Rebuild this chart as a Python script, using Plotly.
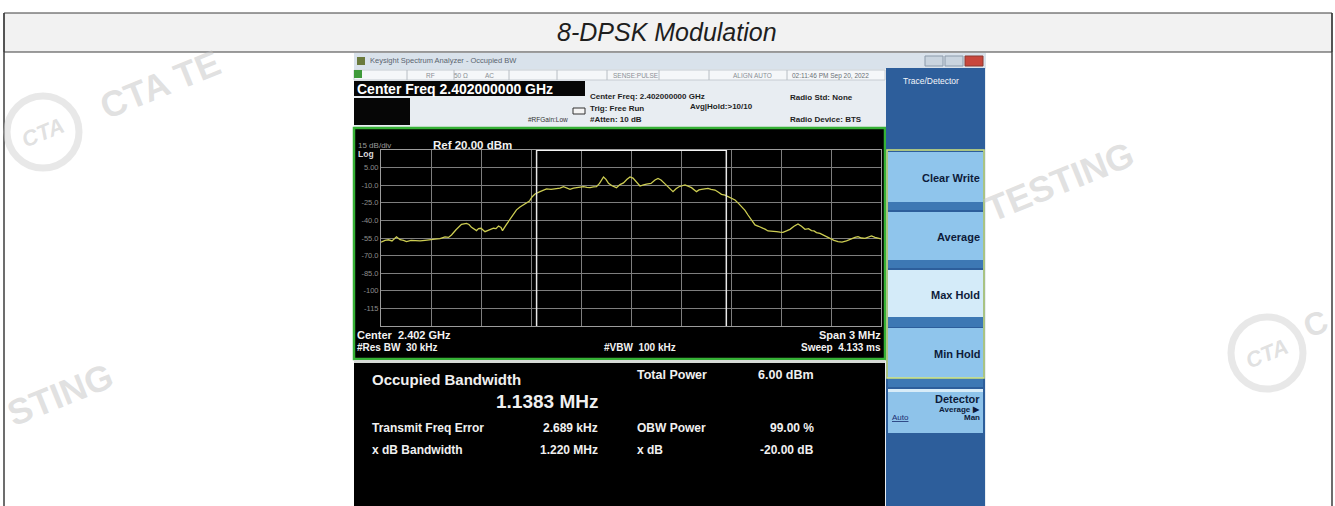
import plotly.graph_objects as go

W, H = 1335, 506

# ---------------- data ----------------
freq_mhz = [
    2400.500, 2400.524, 2400.545, 2400.566, 2400.593, 2400.614, 2400.635, 2400.653, 2400.680, 2400.710,
    2400.734, 2400.764, 2400.797, 2400.824, 2400.854, 2400.884, 2400.905, 2400.923, 2400.950, 2400.968,
    2400.983, 2401.013, 2401.028, 2401.043, 2401.061, 2401.073, 2401.085, 2401.100, 2401.124, 2401.145,
    2401.175, 2401.190, 2401.205, 2401.220, 2401.229, 2401.250, 2401.274, 2401.295, 2401.313, 2401.334,
    2401.355, 2401.376, 2401.391, 2401.406, 2401.424, 2401.454, 2401.475, 2401.493, 2401.520, 2401.553,
    2401.574, 2401.595, 2401.616, 2401.634, 2401.655, 2401.685, 2401.715, 2401.736, 2401.754, 2401.775,
    2401.793, 2401.811, 2401.835, 2401.850, 2401.865, 2401.886, 2401.913, 2401.934, 2401.955, 2401.976,
    2401.994, 2402.012, 2402.030, 2402.054, 2402.075, 2402.093, 2402.120, 2402.144, 2402.162, 2402.180,
    2402.198, 2402.222, 2402.252, 2402.270, 2402.288, 2402.324, 2402.345, 2402.363, 2402.393, 2402.408,
    2402.423, 2402.444, 2402.462, 2402.480, 2402.504, 2402.525, 2402.543, 2402.564, 2402.582, 2402.600,
    2402.624, 2402.645, 2402.663, 2402.684, 2402.702, 2402.723, 2402.744, 2402.765, 2402.783, 2402.804,
    2402.822, 2402.846, 2402.873, 2402.894, 2402.912, 2402.933, 2402.954, 2402.978, 2403.002, 2403.023,
    2403.044, 2403.065, 2403.083, 2403.098, 2403.113, 2403.134, 2403.152, 2403.170, 2403.194, 2403.218,
    2403.242, 2403.266, 2403.293, 2403.308, 2403.323, 2403.344, 2403.362, 2403.383, 2403.404, 2403.425,
    2403.443, 2403.464, 2403.482, 2403.500,
]
level_dbm = [
    -58.5, -57.0, -56.5, -57.5, -54.0, -56.5, -57.0, -58.0, -57.0, -57.5,
    -57.5, -57.0, -56.7, -56.0, -55.5, -54.0, -54.5, -52.4, -48.0, -45.0,
    -43.4, -42.5, -43.5, -45.9, -48.0, -48.7, -47.0, -46.7, -49.6, -48.5,
    -46.7, -47.0, -44.8, -46.0, -48.7, -44.0, -39.0, -34.5, -31.0, -28.5,
    -26.9, -25.0, -23.5, -20.0, -17.5, -15.5, -14.0, -13.2, -13.5, -13.2,
    -12.5, -11.2, -12.5, -13.5, -12.5, -12.0, -11.3, -11.8, -12.0, -11.5,
    -11.3, -8.5, -3.0, -5.0, -8.4, -10.5, -12.1, -9.5, -8.0, -5.0,
    -3.0, -4.0, -7.0, -10.7, -9.8, -9.0, -8.5, -5.5, -4.2, -5.5,
    -8.0, -11.3, -15.5, -13.0, -11.3, -9.8, -10.8, -12.1, -15.5, -14.0,
    -13.5, -13.0, -12.7, -13.5, -14.1, -16.0, -17.8, -18.5, -19.8, -20.5,
    -22.6, -25.5, -28.3, -31.5, -35.4, -39.5, -43.9, -45.0, -45.9, -47.5,
    -49.0, -49.0, -49.6, -50.0, -50.2, -49.0, -47.6, -45.0, -43.1, -45.0,
    -47.6, -47.0, -48.7, -49.0, -50.4, -51.0, -52.4, -53.5, -55.3, -57.0,
    -58.1, -58.5, -57.5, -56.5, -55.3, -54.5, -53.9, -55.0, -55.3, -54.0,
    -53.3, -54.5, -55.0, -55.8,
]
x_range_mhz = [2400.5, 2403.5]
y_range_dbm = [-130, 20]
y_tick_vals = [5, -10, -25, -40, -55, -70, -85, -100, -115]
y_tick_text = ["5.00", "-10.0", "-25.0", "-40.0", "-55.0", "-70.0", "-85.0", "-100", "-115"]
obw_edges_mhz = [2401.4335, 2402.5719]

title_text = "8-DPSK Modulation"
result_labels = ["Transmit Freq Error", "x dB Bandwidth"]
result_values = ["2.689 kHz", "1.220 MHz"]
result_labels2 = ["OBW Power", "x dB"]
result_values2 = ["99.00 %", "-20.00 dB"]
buttons = ["Clear Write", "Average", "Max Hold", "Min Hold"]

FONT = "Arial, Liberation Sans, sans-serif"

shapes, annots = [], []


def X(p):
    return p / W


def Y(p):
    return 1 - p / H


def rect(x0, y0, x1, y1, fill, line="rgba(0,0,0,0)", lw=0, layer="above"):
    shapes.append(dict(type="rect", xref="paper", yref="paper", x0=X(x0), x1=X(x1),
                       y0=Y(y1), y1=Y(y0), fillcolor=fill,
                       line=dict(color=line, width=lw), layer=layer))


def seg(x0, y0, x1, y1, color, w=1, layer="above"):
    shapes.append(dict(type="line", xref="paper", yref="paper", x0=X(x0), x1=X(x1),
                       y0=Y(y0), y1=Y(y1), line=dict(color=color, width=w), layer=layer))


def circ(cx, cy, r, color, w):
    shapes.append(dict(type="circle", xref="paper", yref="paper", x0=X(cx - r), x1=X(cx + r),
                       y0=Y(cy + r), y1=Y(cy - r), line=dict(color=color, width=w), layer="above"))


def text(x, y, s, size=10, color="#000", anchor="left", bold=False, italic=False, angle=0,
         family=FONT):
    if bold:
        s = "<b>" + s + "</b>"
    if italic:
        s = "<i>" + s + "</i>"
    annots.append(dict(x=X(x), y=Y(y), xref="paper", yref="paper", text=s, showarrow=False,
                       xanchor=anchor, yanchor="middle", textangle=angle, borderpad=0,
                       font=dict(size=size, color=color, family=family)))


# ---------------- outer table ----------------
rect(4, 13, 1332, 52, "#f2f2f2", "#3c3c3c", 1)
seg(4, 13, 4, 506, "#3c3c3c", 1.5)
seg(1332, 13, 1332, 506, "#3c3c3c", 1.5)
text(667, 32, title_text, 25, "#1e1e1e", "center", italic=True)

# ---------------- analyzer screenshot ----------------
rect(354, 53, 986, 506, "#e8edf2", layer="below")
# window title bar
rect(354, 53, 986, 69, "#d9e2eb", layer="below")
rect(357, 57, 365, 65, "#6a7a3c", layer="below")
text(369, 61, "Keysight Spectrum Analyzer - Occupied BW", 7.5, "#5a6470")
rect(925, 56, 943, 66, "#c9d4df", "#8b9aaa", 1)
rect(945, 56, 963, 66, "#c9d4df", "#8b9aaa", 1)
rect(965, 56, 983, 66, "#c8473d", "#8b3a33", 1)
# status row
rect(354, 70, 885, 80, "#f5f7f9", "#c6ccd2", 1)
rect(354, 70, 362, 78, "#3f9a3a")
for xd in [407, 454, 509, 557, 607, 659, 709, 787]:
    seg(xd, 70, xd, 80, "#b8bec4", 1)
text(430, 75.5, "RF", 6.5, "#8a8f95", "center")
text(461, 75.5, "50 Ω", 6.5, "#8a8f95", "center")
text(489, 75.5, "AC", 6.5, "#8a8f95", "center")
text(612, 75.5, "SENSE:PULSE", 6.5, "#8a8f95")
text(732, 75.5, "ALIGN AUTO", 6.5, "#8a8f95")
text(791, 75.5, "02:11:46 PM Sep 20, 2022", 6.5, "#6a6f75")
# header
rect(354, 81, 585, 96, "#060606")
text(356, 88.5, "Center Freq 2.402000000 GHz", 14, "#ffffff", bold=True)
rect(354, 98, 410, 125, "#060606")
text(548, 120, "#RFGain:Low", 6.5, "#333333", "center")
rect(573, 108, 585, 114, "#f4f4f4", "#333333", 1)
text(589, 96.5, "Center Freq: 2.402000000 GHz", 8, "#1f1f1f", bold=True)
text(589, 108, "Trig: Free Run", 8, "#1f1f1f", bold=True)
text(689, 106, "Avg|Hold:>10/10", 8, "#1f1f1f", bold=True)
text(589, 120, "#Atten: 10 dB", 8, "#1f1f1f", bold=True)
text(789, 97, "Radio Std: None", 8, "#1f1f1f", bold=True)
text(789, 120, "Radio Device: BTS", 8, "#1f1f1f", bold=True)

# green framed trace window
rect(354, 128, 885, 359, "#000000", "#36b136", 2.5, layer="below")
text(357, 145, "15 dB/div", 8, "#9a9a9a")
text(432, 144.5, "Ref 20.00 dBm", 11.5, "#f2f2f2", bold=True)
text(357, 154, "Log", 8.5, "#d8d8d8", bold=True)
text(356, 335, "Center  2.402 GHz", 11, "#f2f2f2", bold=True)
text(882, 335, "Span 3 MHz", 11, "#f2f2f2", "right", bold=True)
text(356, 347, "#Res BW  30 kHz", 10, "#f2f2f2", bold=True)
text(603, 347, "#VBW  100 kHz", 10, "#f2f2f2", bold=True)
text(882, 347, "Sweep  4.133 ms", 10, "#f2f2f2", "right", bold=True)

# measurement panel
rect(354, 360, 885, 363, "#d6dad6")
rect(354, 363, 885, 506, "#000000")
text(371, 379, "Occupied Bandwidth", 15, "#f0f0f0", bold=True)
text(599, 401, "1.1383 MHz", 19, "#f0f0f0", "right", bold=True)
text(636, 375, "Total Power", 12.5, "#f0f0f0", bold=True)
text(757, 375, "6.00 dBm", 12.5, "#f0f0f0", bold=True)
for i, (lab, val) in enumerate(zip(result_labels, result_values)):
    yy = 428 + 22 * i
    text(371, yy, lab, 12, "#f0f0f0", bold=True)
    text(599, yy, val, 12, "#f0f0f0", "right", bold=True)
for i, (lab, val) in enumerate(zip(result_labels2, result_values2)):
    yy = 428 + 22 * i
    text(636, yy, lab, 12, "#f0f0f0", bold=True)
    text(815, yy, val, 12, "#f0f0f0", "right", bold=True)

# right soft-key panel
rect(886, 68, 985, 506, "#2d5e9b")
text(902, 81, "Trace/Detector", 8.5, "#f4f6fa")
btn_spans = [(152, 202, 210), (212, 260, 268), (270, 317, 327), (328, 378, 387)]
btn_fill = ["#8fc5ec", "#8fc5ec", "#d4ebf9", "#8fc5ec"]
for (t0, t1, t2), name, fc in zip(btn_spans, buttons, btn_fill):
    rect(888, t0, 983, t1, fc)
    rect(888, t1, 983, t2, "#3d78b4")
    text(981, (t0 + t1) / 2 + 1, name, 11, "#0d1b3a", "right", bold=True)
rect(887, 150, 984, 378, "rgba(0,0,0,0)", "#d2e57c", 1.5)
rect(888, 389, 983, 433, "#8ec3ea")
rect(888, 389, 983, 392, "#d8ecf8")
text(981, 399, "Detector", 11, "#0d1b3a", "right", bold=True)
text(981, 409, "Average ▶", 8, "#0d1b3a", "right", bold=True)
text(891, 417, "<u>Auto</u>", 8, "#1a2d70")
text(981, 417, "Man", 8, "#0d1b3a", "right", bold=True)

# ---------------- watermarks ----------------
WM = "rgba(195,195,195,0.5)"
text(160, 84, "CTA TE", 36, WM, "center", bold=True, angle=-22)
text(1060, 182, "TESTING", 36, WM, "center", bold=True, angle=-22)
text(60, 394, "STING", 36, WM, "center", bold=True, angle=-22)
text(1315, 324, "C", 32, WM, "center", bold=True, angle=-22)
circ(43, 132, 36, "rgba(210,210,210,0.5)", 7)
circ(1267, 353, 36, "rgba(210,210,210,0.5)", 7)
text(43, 132, "CTA", 22, WM, "center", bold=True, italic=True, angle=-22)
text(1267, 353, "CTA", 22, WM, "center", bold=True, italic=True, angle=-22)

# ---------------- spectrum trace ----------------
fig = go.Figure()
fig.add_trace(go.Scatter(x=freq_mhz, y=level_dbm, mode="lines",
                         line=dict(color="#cdcd52", width=1.3), hoverinfo="skip",
                         showlegend=False))

for e in obw_edges_mhz:
    shapes.append(dict(type="line", xref="x", yref="y", x0=e, x1=e, y0=y_range_dbm[0],
                       y1=y_range_dbm[1], line=dict(color="#e8e8e8", width=1.5), layer="above"))
shapes.append(dict(type="line", xref="x", yref="y", x0=obw_edges_mhz[0], x1=obw_edges_mhz[1],
                   y0=y_range_dbm[1], y1=y_range_dbm[1], line=dict(color="#f4f4f4", width=2),
                   layer="above"))

fig.update_layout(
    width=W, height=H, margin=dict(l=0, r=0, t=0, b=0),
    paper_bgcolor="#ffffff", plot_bgcolor="#000000",
    shapes=shapes, annotations=annots, showlegend=False,
    xaxis=dict(domain=[X(381), X(881)], range=x_range_mhz, tick0=2400.5, dtick=0.3,
               showticklabels=False, ticks="", showgrid=True, gridcolor="#7e7e7e", gridwidth=1,
               zeroline=False, showline=True, linecolor="#9c9c9c", linewidth=1, mirror=True,
               automargin=False, fixedrange=True),
    yaxis=dict(domain=[Y(326), Y(150)], range=y_range_dbm, tickvals=y_tick_vals,
               ticktext=y_tick_text, tickfont=dict(size=7.5, color="#8c8c8c", family=FONT),
               ticks="", showgrid=True, gridcolor="#7e7e7e", gridwidth=1, zeroline=False,
               showline=True, linecolor="#9c9c9c", linewidth=1, mirror=True,
               automargin=False, fixedrange=True),
)

fig.write_html("out.html", config={"displayModeBar": False},
               post_script="document.body.style.margin='0px';document.body.style.padding='0px';")
